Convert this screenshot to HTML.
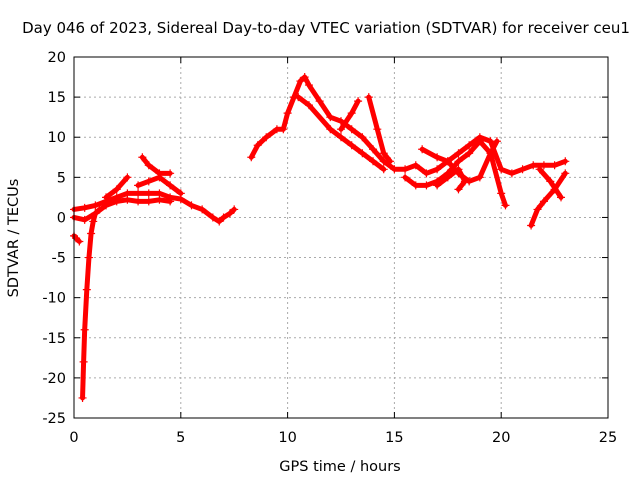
<!DOCTYPE html>
<html><head><meta charset="utf-8"><style>
body{margin:0;background:#fff}
svg text{font-family:"DejaVu Sans","Liberation Sans",sans-serif;font-size:14.5px;fill:#000}
</style></head><body>
<svg id="chart" width="640" height="480" viewBox="0 0 640 480">
<rect width="640" height="480" fill="#fff"/>
<text x="326" y="33" text-anchor="middle" style="font-size:15px">Day 046 of 2023, Sidereal Day-to-day VTEC variation (SDTVAR) for receiver ceu1</text>
<g id="grid"></g><g id="ticks"></g><g id="series"></g>
<rect x="74" y="57" width="534" height="361" fill="none" stroke="#000"/>
<text x="340" y="471" text-anchor="middle">GPS time / hours</text>
<text transform="translate(18,238) rotate(-90)" text-anchor="middle">SDTVAR / TECUs</text>
</svg>
<script>
const xTicks=[0,5,10,15,20,25];
const yTicks=[20,15,10,5,0,-5,-10,-15,-20,-25];
const trackDip=[[0.4,-22.5],[0.45,-18],[0.5,-14],[0.6,-9],[0.7,-5],[0.8,-2],[0.9,-0.5],[1.0,0.5],[1.2,1]];
const trackNeg=[[0,-2.3],[0.1,-2.6],[0.25,-3]];
const trackLow=[[0,1],[0.5,1.2],[1,1.5],[1.5,2],[2,2.5],[2.5,3],[3,3],[3.5,3],[4,3],[4.5,2.5],[5,2.3],[5.5,1.5],[6,1],[6.5,0],[6.8,-0.5],[7,0],[7.3,0.5],[7.5,1]];
const trackZero=[[0,0],[0.5,-0.3],[1,0.5],[1.5,1.5],[2,2],[2.5,2.2],[3,2],[3.5,2],[4,2.2],[4.5,2]];
const trackHigh=[[1.5,2.5],[2,3.5],[2.5,5]];
const trackBump=[[3,4],[3.5,4.5],[4,5],[4.5,4],[5,3]];
const trackPeak=[[3.2,7.5],[3.5,6.5],[4,5.5],[4.5,5.5]];
const trackMain=[[8.3,7.5],[8.6,9],[9,10],[9.5,11],[9.8,11],[10,13],[10.3,15],[10.6,17],[10.8,17.5],[11,16.5],[11.5,14.5],[12,12.5],[12.5,12],[13,11],[13.5,10],[14,8.5],[14.5,7],[15,6],[15.5,6],[16,6.5],[16.5,5.5],[17,6],[17.5,7],[18,8],[18.5,9],[19,10],[19.5,9.5],[20,6],[20.5,5.5],[21,6],[21.5,6.5],[22,6.5],[22.5,6.5],[23,7]];
const trackB1=[[12.5,11],[13,13],[13.3,14.5]];
const trackB2=[[13.8,15],[14.2,11],[14.5,8],[14.8,7]];
const trackB3=[[10.5,15],[11,14],[12,11],[12.5,10],[13,9],[13.5,8],[14,7],[14.5,6]];
const trackB4=[[15.5,5],[16,4],[16.5,4],[17,4.5],[17.5,5.5],[18,7],[18.5,8],[19,9.5],[19.5,8],[20,3],[20.2,1.5]];
const trackB5=[[16.3,8.5],[17,7.5],[17.5,7],[18,5.5],[18.5,4.5],[19,5],[19.5,8],[19.8,9.5]];
const trackB6=[[17,4],[17.5,5],[18,6],[18.3,4.5],[18,3.5]];
const trackB7=[[21.4,-1],[21.7,1],[22,2],[22.5,3.5],[23,5.5]];
const trackB8=[[21.8,6],[22.3,4.5],[22.8,2.5]];
const tracks=[trackDip,trackNeg,trackLow,trackZero,trackHigh,trackBump,trackPeak,trackMain,trackB1,trackB2,trackB3,trackB4,trackB5,trackB6,trackB7,trackB8];
const NS="http://www.w3.org/2000/svg";
const X=v=>74+v*(534/25), Y=v=>57+(20-v)*(361/45);
function mk(t,a,p){const e=document.createElementNS(NS,t);for(const k in a)e.setAttribute(k,a[k]);p.appendChild(e);return e;}
const grid=document.getElementById('grid'),ticks=document.getElementById('ticks'),ser=document.getElementById('series');
xTicks.forEach(v=>{
 if(v>0&&v<25){const g=mk('line',{x1:X(v),x2:X(v),y1:57,y2:418,stroke:'#aaa','stroke-dasharray':'2,3'},grid);
 
 }
 mk('line',{x1:X(v),x2:X(v),y1:418,y2:412,stroke:'#000'},ticks);
 mk('line',{x1:X(v),x2:X(v),y1:57,y2:63,stroke:'#000'},ticks);
 const t=mk('text',{x:X(v),y:442,'text-anchor':'middle'},ticks);t.textContent=v;
 
 
});
yTicks.forEach(v=>{
 if(v<20&&v>-25){const g=mk('line',{x1:74,x2:608,y1:Y(v),y2:Y(v),stroke:'#aaa','stroke-dasharray':'2,3'},grid);
 
 }
 mk('line',{x1:74,x2:80,y1:Y(v),y2:Y(v),stroke:'#000'},ticks);
 mk('line',{x1:608,x2:602,y1:Y(v),y2:Y(v),stroke:'#000'},ticks);
 const t=mk('text',{x:66,y:Y(v)+5,'text-anchor':'end'},ticks);t.textContent=v;
 
 
});
tracks.forEach(tr=>{
 const pl=mk('polyline',{points:tr.map(p=>X(p[0])+','+Y(p[1])).join(' '),fill:'none',stroke:'#f00','stroke-width':5,'stroke-linejoin':'round','stroke-linecap':'round'},ser);
 
 
 tr.forEach(p=>{
  const m=mk('path',{d:`M${X(p[0])-4},${Y(p[1])}h8M${X(p[0])},${Y(p[1])-4}v8`,stroke:'#f00','stroke-width':1.2},ser);
  
  
 });
});
</script>
</body></html>
